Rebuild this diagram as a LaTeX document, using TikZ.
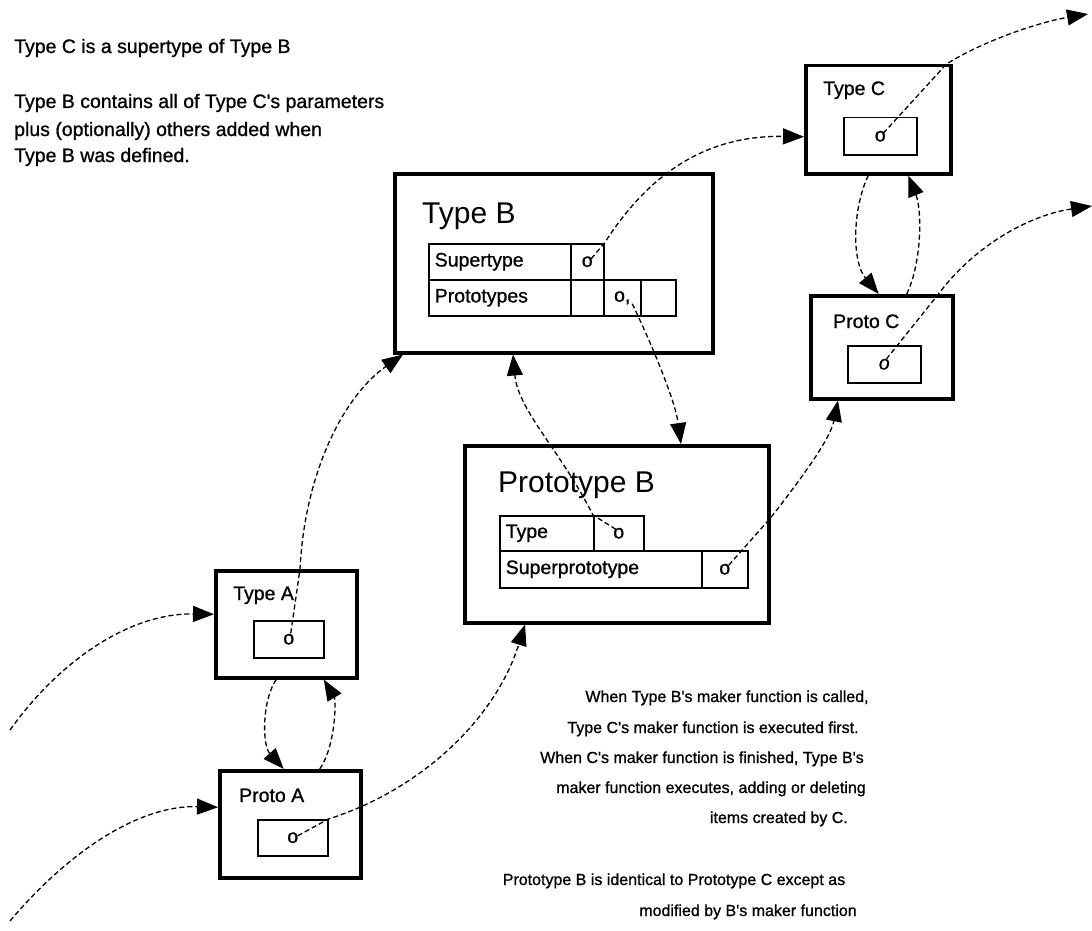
\documentclass[tikz,border=0pt]{standalone}
\usepackage{fontspec}
\setmainfont{Liberation Sans}
\newfontfamily\heavysans[FakeBold=0.9]{Liberation Sans}
\usetikzlibrary{arrows.meta,calc}
\newcommand\mylbfont{\heavysans\fontsize{19.5}{22}\selectfont}
\newcommand\myttfont{\fontsize{30}{34}\selectfont}
\newcommand\myntfont{\heavysans\fontsize{16}{19}\selectfont}
\begin{document}
\begin{tikzpicture}[x=1pt,y=-1pt,
  bigbox/.style={draw, line width=3.5pt, inner sep=0pt, anchor=north west},
  inbox/.style={draw, line width=1.5pt, inner sep=0pt, anchor=north west, font=\mylbfont},
  lcell/.style={inbox, inner xsep=6pt, align=left},
  lbl/.style={font=\mylbfont, inner sep=0pt, anchor=base west},
  ttl/.style={font=\myttfont, inner sep=0pt, anchor=base west},
  notel/.style={font=\mylbfont, inner sep=0pt, anchor=base west},
  noter/.style={font=\myntfont, inner sep=0pt, anchor=base},
  conn/.style={line width=1.3pt, dash pattern=on 5pt off 3pt, -{Triangle[length=21pt,width=16pt]}}]
\fill[white] (0,0) rectangle (1092,931);
\path[use as bounding box] (0,0) rectangle (1092,931);

% ---- outer boxes
\node[bigbox, minimum width=318, minimum height=179] (typeB)  at (393,172) {};
\node[bigbox, minimum width=304, minimum height=177] (protoB) at (463,444) {};
\node[bigbox, minimum width=145, minimum height=108] (typeC)  at (804,64) {};
\node[bigbox, minimum width=142, minimum height=103] (protoC) at (809,294) {};
\node[bigbox, minimum width=141, minimum height=107] (typeA)  at (214,569) {};
\node[bigbox, minimum width=141, minimum height=107] (protoA) at (218,769) {};

% ---- titles
\node[ttl] (typeBt)  at (422,223) {Type B};
\node[ttl] (protoBt) at (498,492) {Prototype B};
\node[lbl] (typeCt)  at (823,95)  {Type C};
\node[lbl] (protoCt) at (833,328) {Proto C};
\node[lbl] (typeAt)  at (233,600) {Type A};
\node[lbl] (protoAt) at (239,802) {Proto A};

% ---- Type B table
\node[lcell, text width=130pt, minimum height=36] (tbSup) at (428,243) {Supertype};
\node[inbox, minimum width=33, minimum height=36] (tbSo) at (570,243) {o};
\node[lcell, text width=130pt, minimum height=36] (tbPro) at (428,279) {Prototypes};
\node[inbox, minimum width=33, minimum height=36] (tbP1) at (570,279) {};
\node[inbox, minimum width=37, minimum height=36] (tbP2) at (603,279) {o,};
\node[inbox, minimum width=35, minimum height=36] (tbP3) at (640,279) {};

% ---- Prototype B table
\node[lcell, text width=82pt, minimum height=35] (pbType) at (499,515) {Type};
\node[inbox, minimum width=50, minimum height=35] (pbTo) at (593,515) {o};
\node[lcell, text width=190pt, minimum height=37] (pbSup) at (499,550) {Superprototype};
\node[inbox, minimum width=46, minimum height=37] (pbSo) at (701,550) {o};

% ---- small inner boxes
\node[inbox, minimum width=73, minimum height=37] (tcO) at (843,117) {o};
\node[inbox, minimum width=73, minimum height=37] (pcO) at (847,345) {\textit{o}};
\node[inbox, minimum width=70, minimum height=37] (taO) at (253,620) {o};
\node[inbox, minimum width=70, minimum height=36] (paO) at (257,819) {o};

% ---- free ends
\coordinate (outC)  at (1088,14);
\coordinate (outPC) at (1092,206);
\coordinate (inA)   at (10,730);
\coordinate (inPA)  at (10,921);

% ---- connectors
\draw[conn] ([shift={(4pt,3pt)}]tbSo.center) -- (tbSo.north east)
  .. controls (645,180) and (700,135) .. ([yshift=-17pt]typeC.west);
\draw[conn] ([shift={(3pt,3pt)}]tcO.center) -- ([xshift=-6pt]typeC.north east)
  .. controls (985,40) and (1040,22) .. (outC);
\draw[conn] ([shift={(2pt,5pt)}]pcO.center) -- ([xshift=-16pt]protoC.north east)
  .. controls (975,245) and (1030,215) .. (outPC);
\draw[conn] ([xshift=-10pt]typeC.south) .. controls (852,210) and (852,262) .. ([xshift=-3pt]protoC.north);
\draw[conn] ([xshift=25pt]protoC.north) .. controls (922,262) and (922,210) .. ([xshift=30pt]typeC.south);
\draw[conn] ([xshift=-10pt]typeA.south) .. controls (262,700) and (262,745) .. ([xshift=-6.5pt]protoA.north);
\draw[conn] ([xshift=29.5pt]protoA.north) .. controls (336,745) and (336,700) .. ([xshift=37.5pt]typeA.south);
\draw[conn] ([shift={(2pt,6pt)}]taO.center) -- ([xshift=86pt]typeA.north west)
  .. controls (305,470) and (345,395) .. ([xshift=10pt]typeB.south west);
\draw[conn] ([shift={(-3pt,4pt)}]pbTo.center) -- (pbTo.north west)
  .. controls (560,450) and (518,410) .. ([xshift=120pt]typeB.south west);
\draw[conn] ([shift={(10pt,-6pt)}]tbP2.center)
  .. controls (652,345) and (675,400) .. ([xshift=218pt]protoB.north west);
\draw[conn] ([shift={(4pt,4pt)}]pbSo.center) -- ([yshift=-74pt]protoB.north east)
  .. controls (800,480) and (830,440) .. ([xshift=29pt]protoC.south west);
\draw[conn] ([shift={(5pt,2pt)}]paO.center) -- (paO.north east)
  .. controls (420,790) and (495,720) .. ([xshift=62pt]protoB.south west);
\draw[conn] (inA) .. controls (60,660) and (130,613) .. ([yshift=10pt]typeA.west);
\draw[conn] (inPA) .. controls (70,850) and (140,805) .. ([yshift=17pt]protoA.west);

% ---- notes
\node[notel] (n1) at (14,53)  {Type C is a supertype of Type B};
\node[notel] (n2) at (14,108) {Type B contains all of Type C's parameters};
\node[notel] (n3) at (14,136) {plus (optionally) others added when};
\node[notel] (n4) at (14,162) {Type B was defined.};

\node[noter] (m1) at (727,702) {When Type B's maker function is called,};
\node[noter] (m2) at (713,733) {Type C's maker function is executed first.};
\node[noter] (m3) at (702,763) {When C's maker function is finished, Type B's};
\node[noter] (m4) at (711,793) {maker function executes, adding or deleting};
\node[noter, anchor=base east] (m5) at (848,823) {items created by C.};
\node[noter] (m6) at (674,885) {Prototype B is identical to Prototype C except as};
\node[noter] (m7) at (748,916) {modified by B's maker function};
\end{tikzpicture}
\end{document}
